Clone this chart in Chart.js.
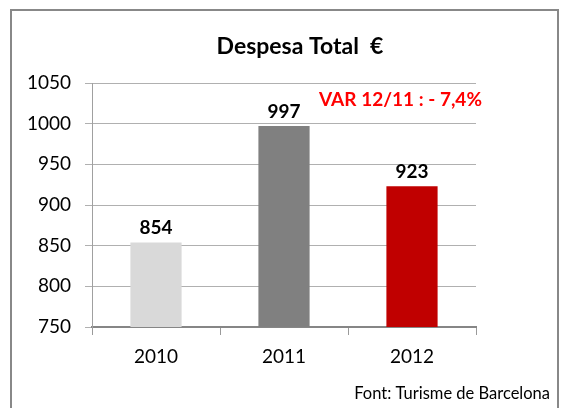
<!DOCTYPE html>
<html>
<head>
<meta charset="utf-8">
<script src="https://cdn.jsdelivr.net/npm/chart.js@4"></script>
<style>
  html, body { margin: 0; padding: 0; background: #fff; }
  #wrap { position: relative; width: 568px; height: 408px; overflow: hidden; }
  #frame {
    position: absolute; left: 10px; top: 9px; width: 545px; height: 420px;
    border: 2px solid #888; pointer-events: none;
  }
  canvas { position: absolute; left: 0; top: 0; }
</style>
</head>
<body>
<div id="wrap">
  <canvas id="chart" width="568" height="408"></canvas>
  <div id="frame"></div>
</div>
<script>
// ===== Data =====
const years = ['2010', '2011', '2012'];
const despesa = [854, 997, 923];
const barColors = ['#d9d9d9', '#808080', '#c00000'];
const yTicks = [750, 800, 850, 900, 950, 1000, 1050];

const titleText = 'Despesa Total  \u20ac';
const varText = 'VAR 12/11 : - 7,4%';
const sourceText = 'Font: Turisme de Barcelona';

const FONT = 'Lato, Carlito, Calibri, sans-serif';

// texts drawn on the canvas: title, value labels, variation note, source
const textPlugin = {
    id: 'texts',
    afterDraw(chart) {
        const { ctx } = chart;
        ctx.save();
        ctx.fillStyle = '#000';
        ctx.textAlign = 'center';
        ctx.textBaseline = 'middle';
        ctx.font = `bold 23px ${FONT}`;
        ctx.fillText(titleText, 300, 47);

        // value labels above each bar
        ctx.font = `bold 19px ${FONT}`;
        ctx.textBaseline = 'alphabetic';
        chart.getDatasetMeta(0).data.forEach((bar, i) => {
            ctx.fillText(String(despesa[i]), bar.x, bar.y - 8);
        });

        ctx.fillStyle = '#ff0000';
        ctx.textAlign = 'left';
        ctx.textBaseline = 'middle';
        ctx.font = `bold 19px ${FONT}`;
        ctx.fillText(varText, 319, 100);

        ctx.fillStyle = '#000';
        ctx.textAlign = 'right';
        ctx.font = `16.5px ${FONT}`;
        ctx.fillText(sourceText, 550, 394);
        ctx.restore();
    }
};

new Chart(document.getElementById('chart'), {
    type: 'bar',
    data: {
        labels: years,
        datasets: [{
            data: despesa,
            backgroundColor: barColors,
            borderWidth: 0,
            categoryPercentage: 0.4,
            barPercentage: 1
        }]
    },
    options: {
        responsive: false,
        animation: false,
        layout: { padding: { top: 83, right: 92, left: 0, bottom: 0 } },
        plugins: { legend: { display: false }, tooltip: { enabled: false } },
        scales: {
            x: {
                afterFit: s => { s.height = 81; },
                grid: { offset: true, drawOnChartArea: false, tickLength: 8, color: '#9a9a9a' },
                border: { color: '#868686', width: 2 },
                ticks: { color: '#000', padding: 10, font: { family: FONT, size: 19 } }
            },
            y: {
                min: 750,
                max: 1050,
                afterFit: s => { s.width = 92; },
                afterBuildTicks: s => { s.ticks = yTicks.map(v => ({ value: v })); },
                grid: { color: '#b0b0b0', tickLength: 7 },
                border: { color: '#a0a0a0', width: 1 },
                ticks: {
                    color: '#000', padding: 14, font: { family: FONT, size: 19 },
                    callback: v => String(v)
                }
            }
        }
    },
    plugins: [textPlugin]
});
</script>
</body>
</html>
